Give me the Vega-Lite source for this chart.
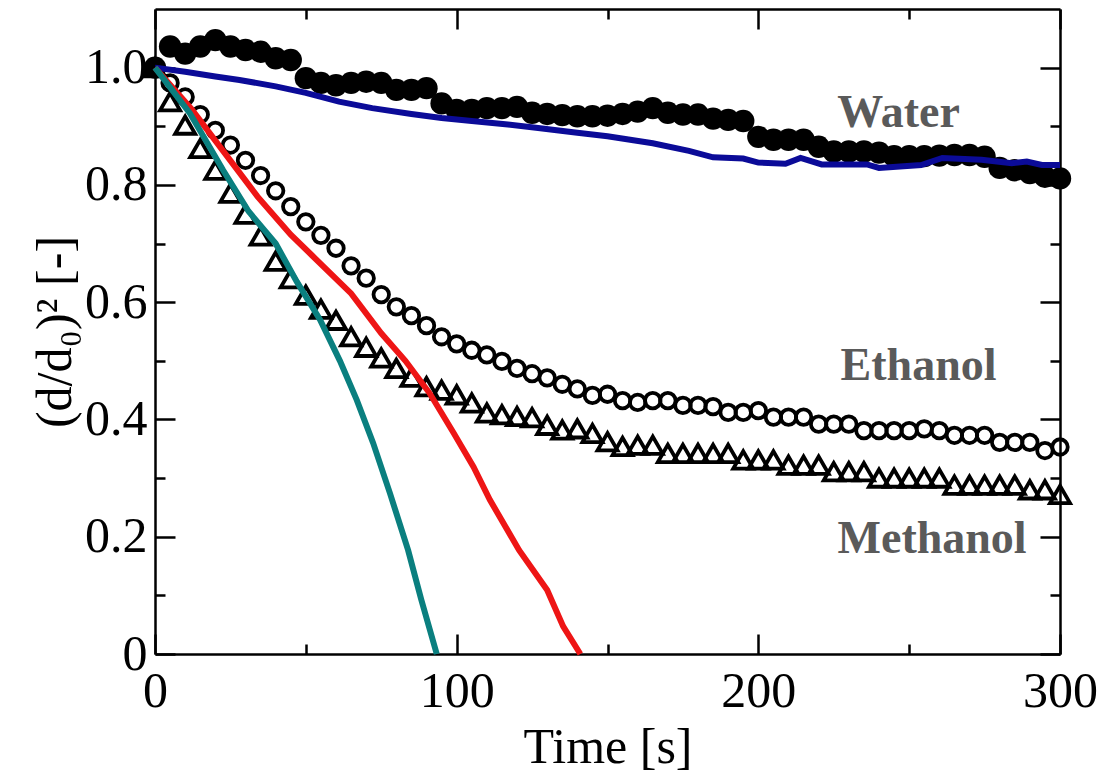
{
  "$schema": "https://vega.github.io/schema/vega-lite/v6.json",
  "width": 905,
  "height": 645,
  "autosize": "none",
  "padding": {"left": 155, "top": 9, "right": 57, "bottom": 128},
  "background": "white",
  "config": {
    "view": {"stroke": null},
    "axis": {
      "domainColor": "black", "domainWidth": 2.5, "tickColor": "black", "tickWidth": 2.5,
      "labelFont": "Liberation Serif", "labelFontSize": 50, "labelColor": "black",
      "titleFont": "Liberation Serif", "titleFontSize": 50, "titleFontWeight": "normal", "titleColor": "black",
      "grid": false, "labelFlush": false, "labelOverlap": false
    }
  },
  "datasets": {
    "water": [
      {"t":0,"v":1.000},{"t":5,"v":1.036},{"t":10,"v":1.024},{"t":15,"v":1.036},{"t":20,"v":1.047},{"t":25,"v":1.036},{"t":30,"v":1.030},{"t":35,"v":1.027},{"t":40,"v":1.016},{"t":45,"v":1.013},
      {"t":50,"v":0.982},{"t":55,"v":0.974},{"t":60,"v":0.970},{"t":65,"v":0.974},{"t":70,"v":0.976},{"t":75,"v":0.974},{"t":80,"v":0.962},{"t":85,"v":0.962},{"t":90,"v":0.965},{"t":95,"v":0.939},
      {"t":100,"v":0.928},{"t":105,"v":0.928},{"t":110,"v":0.931},{"t":115,"v":0.931},{"t":120,"v":0.933},{"t":125,"v":0.923},{"t":130,"v":0.921},{"t":135,"v":0.919},{"t":140,"v":0.917},{"t":145,"v":0.917},
      {"t":150,"v":0.918},{"t":155,"v":0.921},{"t":160,"v":0.925},{"t":165,"v":0.931},{"t":170,"v":0.923},{"t":175,"v":0.920},{"t":180,"v":0.920},{"t":185,"v":0.913},{"t":190,"v":0.911},{"t":195,"v":0.909},
      {"t":200,"v":0.882},{"t":205,"v":0.877},{"t":210,"v":0.877},{"t":215,"v":0.877},{"t":220,"v":0.865},{"t":225,"v":0.857},{"t":230,"v":0.857},{"t":235,"v":0.857},{"t":240,"v":0.855},{"t":245,"v":0.849},
      {"t":250,"v":0.849},{"t":255,"v":0.849},{"t":260,"v":0.850},{"t":265,"v":0.851},{"t":270,"v":0.851},{"t":275,"v":0.848},{"t":280,"v":0.829},{"t":285,"v":0.825},{"t":290,"v":0.820},{"t":295,"v":0.814},{"t":300,"v":0.811}
    ],
    "ethanol": [
      {"t":0,"v":1.000},{"t":5,"v":0.974},{"t":10,"v":0.950},{"t":15,"v":0.920},{"t":20,"v":0.893},{"t":25,"v":0.868},{"t":30,"v":0.842},{"t":35,"v":0.816},{"t":40,"v":0.790},{"t":45,"v":0.763},
      {"t":50,"v":0.737},{"t":55,"v":0.714},{"t":60,"v":0.692},{"t":65,"v":0.662},{"t":70,"v":0.641},{"t":75,"v":0.613},{"t":80,"v":0.592},{"t":85,"v":0.577},{"t":90,"v":0.560},{"t":95,"v":0.541},
      {"t":100,"v":0.529},{"t":105,"v":0.518},{"t":110,"v":0.510},{"t":115,"v":0.499},{"t":120,"v":0.487},{"t":125,"v":0.478},{"t":130,"v":0.471},{"t":135,"v":0.460},{"t":140,"v":0.452},{"t":145,"v":0.441},
      {"t":150,"v":0.443},{"t":155,"v":0.432},{"t":160,"v":0.429},{"t":165,"v":0.432},{"t":170,"v":0.432},{"t":175,"v":0.424},{"t":180,"v":0.424},{"t":185,"v":0.422},{"t":190,"v":0.412},{"t":195,"v":0.412},
      {"t":200,"v":0.415},{"t":205,"v":0.404},{"t":210,"v":0.404},{"t":215,"v":0.404},{"t":220,"v":0.392},{"t":225,"v":0.392},{"t":230,"v":0.392},{"t":235,"v":0.381},{"t":240,"v":0.381},{"t":245,"v":0.381},
      {"t":250,"v":0.381},{"t":255,"v":0.384},{"t":260,"v":0.381},{"t":265,"v":0.373},{"t":270,"v":0.373},{"t":275,"v":0.373},{"t":280,"v":0.361},{"t":285,"v":0.361},{"t":290,"v":0.361},{"t":295,"v":0.347},{"t":300,"v":0.353}
    ],
    "methanol": [
      {"t":0,"v":1.000},{"t":5,"v":0.942},{"t":10,"v":0.902},{"t":15,"v":0.862},{"t":20,"v":0.825},{"t":25,"v":0.786},{"t":30,"v":0.750},{"t":35,"v":0.713},{"t":40,"v":0.670},{"t":45,"v":0.640},
      {"t":50,"v":0.612},{"t":55,"v":0.588},{"t":60,"v":0.569},{"t":65,"v":0.541},{"t":70,"v":0.523},{"t":75,"v":0.505},{"t":80,"v":0.487},{"t":85,"v":0.472},{"t":90,"v":0.456},{"t":95,"v":0.450},
      {"t":100,"v":0.442},{"t":105,"v":0.428},{"t":110,"v":0.411},{"t":115,"v":0.408},{"t":120,"v":0.405},{"t":125,"v":0.403},{"t":130,"v":0.390},{"t":135,"v":0.382},{"t":140,"v":0.384},{"t":145,"v":0.376},
      {"t":150,"v":0.362},{"t":155,"v":0.354},{"t":160,"v":0.356},{"t":165,"v":0.356},{"t":170,"v":0.342},{"t":175,"v":0.342},{"t":180,"v":0.342},{"t":185,"v":0.342},{"t":190,"v":0.342},{"t":195,"v":0.331},
      {"t":200,"v":0.331},{"t":205,"v":0.331},{"t":210,"v":0.322},{"t":215,"v":0.322},{"t":220,"v":0.322},{"t":225,"v":0.311},{"t":230,"v":0.311},{"t":235,"v":0.311},{"t":240,"v":0.300},{"t":245,"v":0.300},
      {"t":250,"v":0.300},{"t":255,"v":0.300},{"t":260,"v":0.300},{"t":265,"v":0.288},{"t":270,"v":0.288},{"t":275,"v":0.288},{"t":280,"v":0.288},{"t":285,"v":0.288},{"t":290,"v":0.280},{"t":295,"v":0.280},{"t":300,"v":0.272}
    ],
    "water_model": [
      {"t":0,"v":1.000},{"t":10,"v":0.993},{"t":20,"v":0.985},{"t":28,"v":0.979},{"t":40,"v":0.968},{"t":50,"v":0.957},{"t":61,"v":0.942},{"t":72,"v":0.931},{"t":85,"v":0.921},{"t":95,"v":0.914},
      {"t":105,"v":0.909},{"t":117,"v":0.903},{"t":127,"v":0.897},{"t":140,"v":0.889},{"t":150,"v":0.883},{"t":165,"v":0.871},{"t":177,"v":0.858},{"t":185,"v":0.847},{"t":195,"v":0.845},{"t":200,"v":0.838},
      {"t":209,"v":0.836},{"t":214,"v":0.846},{"t":221,"v":0.835},{"t":236,"v":0.835},{"t":240,"v":0.829},{"t":254,"v":0.834},{"t":261,"v":0.846},{"t":274,"v":0.843},{"t":284,"v":0.837},{"t":289,"v":0.840},{"t":294,"v":0.834},{"t":300,"v":0.834}
    ],
    "ethanol_model": [
      {"t":0,"v":1.000},{"t":12,"v":0.930},{"t":23,"v":0.855},{"t":34,"v":0.780},{"t":45,"v":0.715},{"t":52,"v":0.680},{"t":65,"v":0.615},{"t":75,"v":0.547},{"t":83,"v":0.500},
      {"t":91,"v":0.445},{"t":99,"v":0.377},{"t":105.6,"v":0.319},{"t":111,"v":0.263},{"t":120.7,"v":0.177},{"t":130,"v":0.109},{"t":135.3,"v":0.047},{"t":141,"v":0.0}
    ],
    "methanol_model": [
      {"t":0,"v":1.000},{"t":11.6,"v":0.922},{"t":22.6,"v":0.825},{"t":31,"v":0.755},{"t":40,"v":0.700},{"t":47,"v":0.635},{"t":54.7,"v":0.570},{"t":61.3,"v":0.500},
      {"t":66.9,"v":0.433},{"t":72.3,"v":0.360},{"t":77.9,"v":0.274},{"t":83.9,"v":0.177},{"t":88.3,"v":0.092},{"t":93.4,"v":0.0}
    ],
    "labels": [
      {"label":"Water","t":246.5,"v":0.899},
      {"label":"Ethanol","t":253.1,"v":0.467},
      {"label":"Methanol","t":257.6,"v":0.172}
    ]
  },
  "resolve": {"axis": {"x": "independent", "y": "independent"}},
  "layer": [
    {
      "data": {"name": "water"},
      "mark": {"type": "point", "shape": "circle", "filled": true, "size": 500, "color": "black", "opacity": 1},
      "encoding": {
        "x": {"field": "t", "type": "quantitative", "scale": {"domain": [0, 300], "nice": false},
          "axis": {"orient": "bottom", "values": [0, 100, 200, 300], "tickSize": -20, "labelPadding": 32, "title": "Time [s]", "titlePadding": 6}},
        "y": {"field": "v", "type": "quantitative", "scale": {"domain": [0, 1.1], "nice": false},
          "axis": {"orient": "left", "values": [0, 0.2, 0.4, 0.6, 0.8, 1.0], "tickSize": -20, "labelPadding": 28,
            "labelExpr": "datum.value == 0 ? '0' : format(datum.value, '.1f')", "title": "(d/d₀)² [-]", "titlePadding": 4}}
      }
    },
    {
      "data": {"name": "ethanol"},
      "mark": {"type": "point", "shape": "circle", "filled": false, "size": 240, "strokeWidth": 3.8, "color": "black", "opacity": 1},
      "encoding": {
        "x": {"field": "t", "type": "quantitative", "scale": {"domain": [0, 300], "nice": false},
          "axis": {"orient": "bottom", "values": [50, 150, 250], "tickSize": -10, "labels": false, "domain": false, "title": null}},
        "y": {"field": "v", "type": "quantitative", "scale": {"domain": [0, 1.1], "nice": false},
          "axis": {"orient": "left", "values": [0.1, 0.3, 0.5, 0.7, 0.9], "tickSize": -10, "labels": false, "domain": false, "title": null}}
      }
    },
    {
      "data": {"name": "methanol"},
      "mark": {"type": "point", "shape": "triangle-up", "filled": false, "size": 400, "strokeWidth": 3.8, "color": "black", "opacity": 1},
      "encoding": {
        "x": {"field": "t", "type": "quantitative", "scale": {"domain": [0, 300], "nice": false},
          "axis": {"orient": "top", "values": [0, 100, 200, 300], "tickSize": -20, "labels": false, "title": null}},
        "y": {"field": "v", "type": "quantitative", "scale": {"domain": [0, 1.1], "nice": false},
          "axis": {"orient": "right", "values": [0, 0.2, 0.4, 0.6, 0.8, 1.0], "tickSize": -20, "labels": false, "title": null}}
      }
    },
    {
      "data": {"name": "water_model"},
      "mark": {"type": "line", "color": "#0b0b98", "strokeWidth": 6},
      "encoding": {
        "x": {"field": "t", "type": "quantitative", "scale": {"domain": [0, 300], "nice": false},
          "axis": {"orient": "top", "values": [50, 150, 250], "tickSize": -10, "labels": false, "domain": false, "title": null}},
        "y": {"field": "v", "type": "quantitative", "scale": {"domain": [0, 1.1], "nice": false},
          "axis": {"orient": "right", "values": [0.1, 0.3, 0.5, 0.7, 0.9], "tickSize": -10, "labels": false, "domain": false, "title": null}}
      }
    },
    {
      "data": {"name": "ethanol_model"},
      "mark": {"type": "line", "color": "#ee1515", "strokeWidth": 6},
      "encoding": {
        "x": {"field": "t", "type": "quantitative", "axis": null},
        "y": {"field": "v", "type": "quantitative", "axis": null}
      }
    },
    {
      "data": {"name": "methanol_model"},
      "mark": {"type": "line", "color": "#0a7f7f", "strokeWidth": 6},
      "encoding": {
        "x": {"field": "t", "type": "quantitative", "axis": null},
        "y": {"field": "v", "type": "quantitative", "axis": null}
      }
    },
    {
      "data": {"name": "labels"},
      "mark": {"type": "text", "font": "Liberation Serif", "fontWeight": "bold", "fontSize": 46, "color": "#5a5a5a", "align": "center", "baseline": "alphabetic"},
      "encoding": {
        "x": {"field": "t", "type": "quantitative", "axis": null},
        "y": {"field": "v", "type": "quantitative", "axis": null},
        "text": {"field": "label"}
      }
    }
  ]
}
